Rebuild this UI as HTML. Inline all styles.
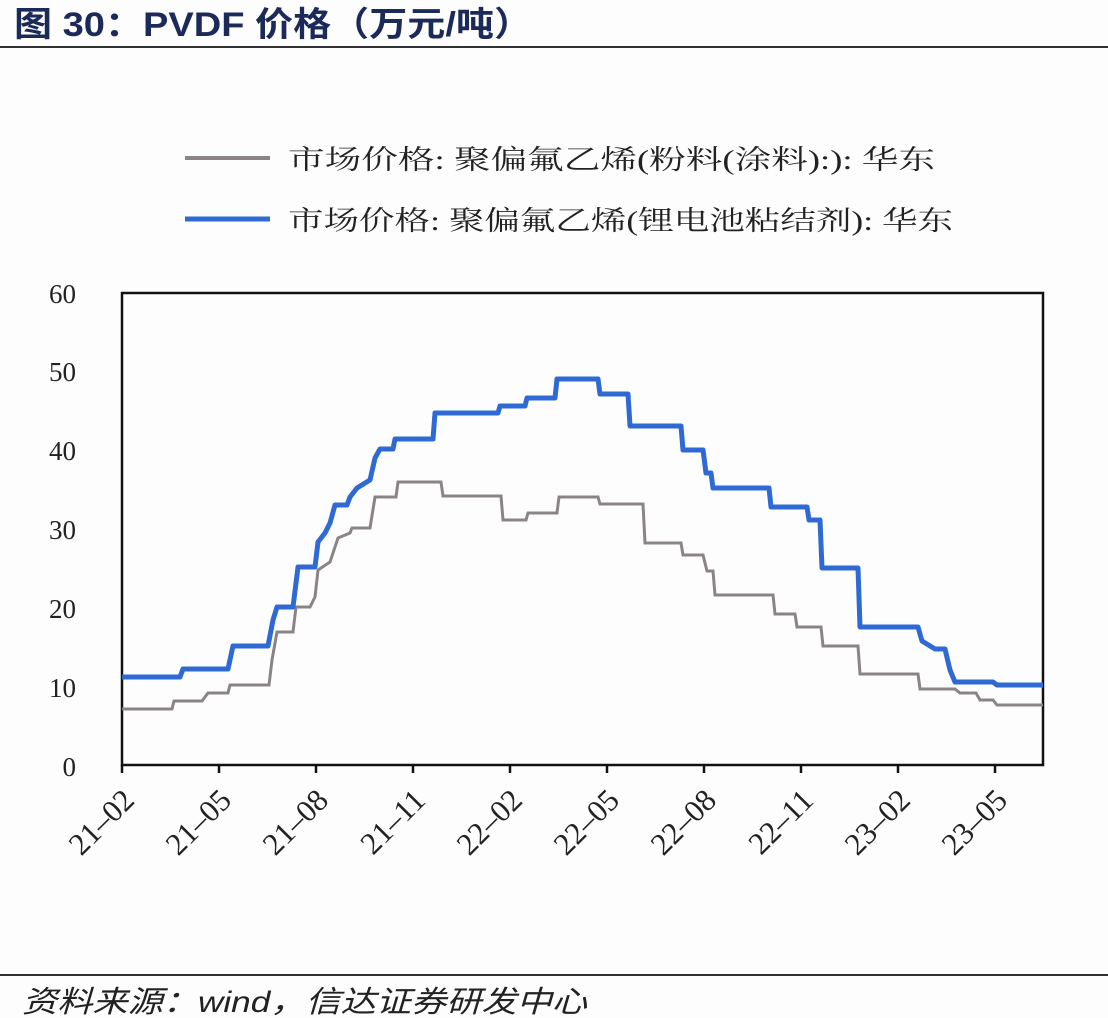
<!DOCTYPE html>
<html><head><meta charset="utf-8"><style>
html,body{margin:0;padding:0;background:#fff;}
svg{display:block;}
</style></head><body>
<svg width="1108" height="1018" viewBox="0 0 1108 1018" xmlns="http://www.w3.org/2000/svg">
<rect width="1108" height="1018" fill="#fdfdfe"/>
<text x="14" y="36" font-family="Liberation Sans, Noto Sans CJK SC, sans-serif" font-weight="bold" font-size="34" fill="#1c2a5a" textLength="518" lengthAdjust="spacingAndGlyphs">图 30：PVDF 价格（万元/吨）</text>
<line x1="0" y1="47" x2="1108" y2="47" stroke="#333" stroke-width="2"/>
<line x1="185" y1="158" x2="270" y2="158" stroke="#8a8488" stroke-width="4"/>
<line x1="185" y1="219" x2="270" y2="219" stroke="#2f6ad4" stroke-width="5"/>
<g font-family="Liberation Serif, Noto Serif CJK SC, serif" font-size="27" fill="#222">
<text x="288" y="169" textLength="647" lengthAdjust="spacingAndGlyphs">市场价格: 聚偏氟乙烯(粉料(涂料):): 华东</text>
<text x="288" y="230" textLength="665" lengthAdjust="spacingAndGlyphs">市场价格: 聚偏氟乙烯(锂电池粘结剂): 华东</text>
</g>
<rect x="122" y="293" width="921" height="472" fill="none" stroke="#111" stroke-width="2.5"/>
<g stroke="#111" stroke-width="2.5">
<line x1="122" y1="765" x2="122" y2="773"/><line x1="219" y1="765" x2="219" y2="773"/><line x1="316" y1="765" x2="316" y2="773"/><line x1="413" y1="765" x2="413" y2="773"/><line x1="510" y1="765" x2="510" y2="773"/><line x1="607" y1="765" x2="607" y2="773"/><line x1="704" y1="765" x2="704" y2="773"/><line x1="801" y1="765" x2="801" y2="773"/><line x1="898" y1="765" x2="898" y2="773"/><line x1="995" y1="765" x2="995" y2="773"/>
</g>
<g font-family="Liberation Serif, serif" font-size="27" fill="#222" text-anchor="end">
<text x="76" y="776">0</text><text x="76" y="697">10</text><text x="76" y="618">20</text><text x="76" y="539">30</text><text x="76" y="460">40</text><text x="76" y="381">50</text><text x="76" y="303">60</text>
</g>
<g font-family="Liberation Serif, serif" font-size="31" fill="#222" text-anchor="end">
<text transform="translate(136,802) rotate(-45)">21–02</text>
<text transform="translate(233,802) rotate(-45)">21–05</text>
<text transform="translate(330,802) rotate(-45)">21–08</text>
<text transform="translate(427,802) rotate(-45)">21–11</text>
<text transform="translate(524,802) rotate(-45)">22–02</text>
<text transform="translate(621,802) rotate(-45)">22–05</text>
<text transform="translate(718,802) rotate(-45)">22–08</text>
<text transform="translate(815,802) rotate(-45)">22–11</text>
<text transform="translate(912,802) rotate(-45)">23–02</text>
<text transform="translate(1009,802) rotate(-45)">23–05</text>
</g>
<polyline fill="none" stroke="#8a8488" stroke-width="3" points="122,709 172,709 174,701 202,701 208,693 228,693 230,685 269,685 272,660 277,632 293,632 296,607 310,607 315,597 318,570 330,562 338,538 350,533 352,528 370,528 375,497 396,497 398,482 441,482 443,496 501,496 503,520 526,520 528,513 557,513 559,497 598,497 600,504 643,504 645,543 681,543 683,555 703,555 707,571 713,571 715,595 773,595 775,614 795,614 797,627 821,627 823,646 858,646 860,674 918,674 920,689 955,689 960,693 976,693 980,700 993,700 997,705 1043,705"/>
<polyline fill="none" stroke="#2f6ad4" stroke-width="5" stroke-linejoin="round" points="122,677 180,677 183,669 228,669 233,646 268,646 273,620 277,607 293,607 298,567 315,567 318,542 325,533 330,523 335,505 347,505 350,497 357,488 370,480 375,458 380,449 393,449 395,439 433,439 435,413 498,413 500,406 525,406 527,398 555,398 557,379 598,379 600,394 628,394 630,426 681,426 683,450 703,450 706,473 711,473 713,488 769,488 771,507 807,507 809,520 820,520 822,568 858,568 860,627 918,627 922,641 935,649 945,649 950,670 955,682 993,682 997,685 1043,685"/>
<line x1="0" y1="975" x2="1108" y2="975" stroke="#333" stroke-width="2"/>
<text x="22" y="1012" font-family="Liberation Sans, Noto Sans CJK SC, sans-serif" font-style="italic" font-size="30" fill="#222" textLength="565" lengthAdjust="spacingAndGlyphs">资料来源：wind，信达证券研发中心</text>
</svg>
</body></html>
